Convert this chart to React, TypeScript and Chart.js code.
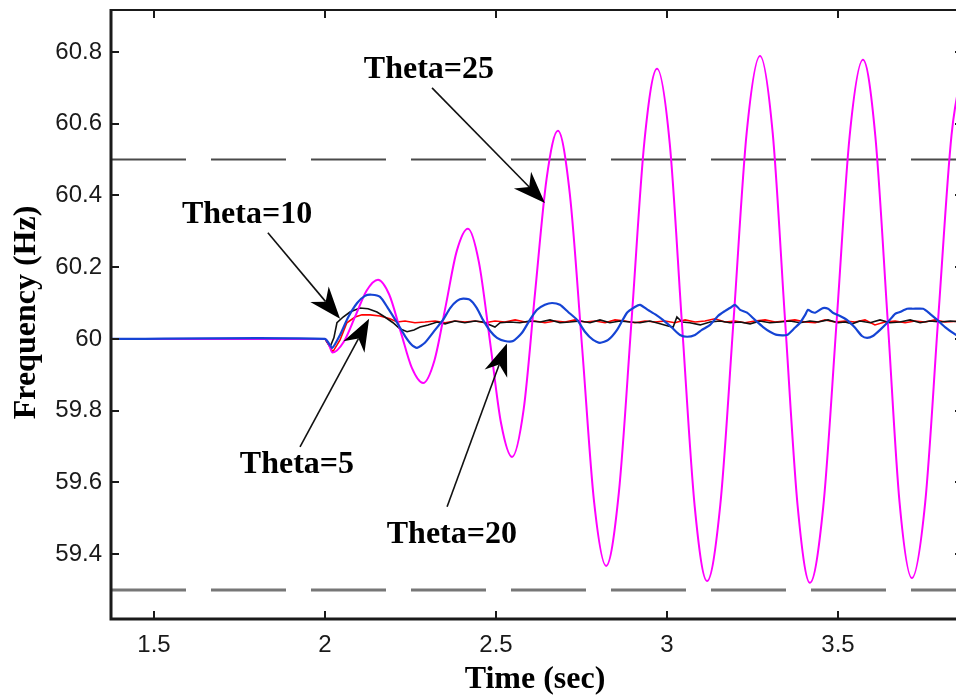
import React, { useEffect, useRef } from "react";
import { Chart, registerables } from "chart.js";

Chart.register(...registerables);

type Pt = [number, number];

// axis ranges / ticks
const X_MIN = 1.3743;
const X_MAX = 3.8655;
const Y_MIN = 59.219;
const Y_MAX = 60.917;
const X_STEP = 0.5;
const Y_STEP = 0.2;

// limit lines (Hz)
const UPPER_LIMIT = 60.5;
const LOWER_LIMIT = 59.3;

// Theta = 25 (magenta)
const theta25: Pt[] = [
  [1.374, 60.0], [2.0, 60.0], [2.011, 59.985], [2.022, 59.962], [2.055, 59.992], [2.089, 60.064],
  [2.122, 60.135], [2.155, 60.165], [2.188, 60.123], [2.221, 60.021], [2.254, 59.919], [2.287, 59.877],
  [2.32, 59.94], [2.353, 60.092], [2.385, 60.244], [2.418, 60.307], [2.45, 60.214], [2.483, 59.989],
  [2.515, 59.764], [2.547, 59.671], [2.581, 59.804], [2.614, 60.126], [2.648, 60.447], [2.681, 60.58],
  [2.716, 60.403], [2.752, 59.974], [2.787, 59.544], [2.822, 59.367], [2.859, 59.569], [2.897, 60.06],
  [2.934, 60.551], [2.971, 60.753], [3.008, 60.545], [3.044, 60.039], [3.081, 59.533], [3.117, 59.325],
  [3.156, 59.539], [3.195, 60.057], [3.233, 60.575], [3.272, 60.789], [3.309, 60.575], [3.345, 60.055],
  [3.382, 59.534], [3.418, 59.32], [3.457, 59.533], [3.496, 60.049], [3.534, 60.565], [3.573, 60.778],
  [3.609, 60.567], [3.645, 60.056], [3.68, 59.544], [3.716, 59.333], [3.755, 59.544], [3.793, 60.057],
  [3.832, 60.569], [3.87, 60.78],
];

// Theta = 20 (blue)
const theta20: Pt[] = [
  [1.374, 60.0], [2.0, 60.0], [2.021, 59.975], [2.044, 60.011], [2.067, 60.059], [2.094, 60.1],
  [2.117, 60.12], [2.137, 60.123], [2.161, 60.117], [2.184, 60.086], [2.211, 60.045], [2.234, 60.008],
  [2.254, 59.983], [2.269, 59.975], [2.292, 59.989], [2.322, 60.025], [2.345, 60.053], [2.366, 60.086],
  [2.386, 60.106], [2.404, 60.112], [2.424, 60.109], [2.444, 60.086], [2.462, 60.053], [2.483, 60.022],
  [2.503, 60.003], [2.526, 59.994], [2.55, 59.994], [2.576, 60.017], [2.599, 60.053], [2.62, 60.081],
  [2.643, 60.095], [2.664, 60.1], [2.687, 60.095], [2.711, 60.075], [2.737, 60.053], [2.76, 60.02],
  [2.784, 59.997], [2.804, 59.989], [2.828, 59.997], [2.854, 60.025], [2.883, 60.073], [2.906, 60.089],
  [2.921, 60.095], [2.944, 60.081], [2.968, 60.067], [2.988, 60.053], [3.015, 60.031], [3.038, 60.011],
  [3.059, 60.006], [3.082, 60.011], [3.102, 60.025], [3.126, 60.039], [3.149, 60.064], [3.17, 60.078],
  [3.184, 60.086], [3.199, 60.095], [3.214, 60.081], [3.234, 60.073], [3.257, 60.053], [3.281, 60.033],
  [3.301, 60.02], [3.322, 60.011], [3.351, 60.011], [3.374, 60.031], [3.389, 60.045], [3.404, 60.067],
  [3.412, 60.081], [3.424, 60.075], [3.433, 60.073], [3.447, 60.081], [3.456, 60.086], [3.471, 60.084],
  [3.485, 60.073], [3.506, 60.064], [3.526, 60.053], [3.55, 60.031], [3.57, 60.008], [3.585, 60.003],
  [3.602, 60.008], [3.623, 60.025], [3.646, 60.047], [3.667, 60.07], [3.681, 60.075], [3.702, 60.084],
  [3.719, 60.084], [3.749, 60.084], [3.769, 60.07], [3.79, 60.053], [3.813, 60.033], [3.845, 60.011],
  [3.866, 60.0],
];

// Theta = 10 (black)
const theta10: Pt[] = [
  [1.374, 60.0], [2.0, 60.0], [2.015, 59.978], [2.026, 60.003], [2.035, 60.045], [2.053, 60.061],
  [2.073, 60.075], [2.102, 60.086], [2.126, 60.084], [2.152, 60.075], [2.175, 60.061], [2.199, 60.045],
  [2.219, 60.028], [2.24, 60.02], [2.26, 60.025], [2.278, 60.033], [2.301, 60.039], [2.328, 60.047],
  [2.351, 60.042], [2.38, 60.05], [2.409, 60.045], [2.439, 60.05], [2.462, 60.047], [2.483, 60.039],
  [2.497, 60.033], [2.512, 60.045], [2.541, 60.047], [2.57, 60.045], [2.599, 60.05], [2.629, 60.047],
  [2.658, 60.053], [2.687, 60.045], [2.716, 60.047], [2.746, 60.05], [2.775, 60.045], [2.804, 60.053],
  [2.833, 60.045], [2.863, 60.05], [2.892, 60.047], [2.921, 60.045], [2.95, 60.05], [2.98, 60.042],
  [3.003, 60.036], [3.018, 60.033], [3.029, 60.061], [3.044, 60.047], [3.067, 60.045], [3.097, 60.039],
  [3.126, 60.047], [3.155, 60.05], [3.184, 60.045], [3.214, 60.047], [3.243, 60.042], [3.272, 60.05],
  [3.301, 60.045], [3.33, 60.047], [3.36, 60.05], [3.389, 60.045], [3.418, 60.05], [3.442, 60.047],
  [3.471, 60.053], [3.5, 60.045], [3.521, 60.047], [3.541, 60.042], [3.564, 60.05], [3.594, 60.045],
  [3.623, 60.053], [3.652, 60.045], [3.681, 60.047], [3.711, 60.053], [3.74, 60.045], [3.769, 60.05],
  [3.798, 60.047], [3.828, 60.05], [3.866, 60.047],
];

// Theta = 5 (red)
const theta5: Pt[] = [
  [1.374, 60.0], [2.0, 60.0], [2.023, 59.964], [2.044, 59.997], [2.064, 60.045], [2.088, 60.061],
  [2.108, 60.067], [2.132, 60.067], [2.161, 60.064], [2.19, 60.056], [2.211, 60.047], [2.234, 60.05],
  [2.263, 60.045], [2.292, 60.047], [2.322, 60.05], [2.351, 60.045], [2.38, 60.05], [2.409, 60.047],
  [2.439, 60.05], [2.468, 60.045], [2.497, 60.05], [2.526, 60.047], [2.556, 60.053], [2.585, 60.047],
  [2.614, 60.05], [2.643, 60.045], [2.673, 60.05], [2.702, 60.047], [2.731, 60.053], [2.76, 60.047],
  [2.79, 60.05], [2.819, 60.045], [2.848, 60.053], [2.877, 60.05], [2.906, 60.045], [2.936, 60.05],
  [2.965, 60.047], [2.994, 60.05], [3.023, 60.045], [3.053, 60.053], [3.082, 60.047], [3.111, 60.05],
  [3.14, 60.056], [3.17, 60.047], [3.199, 60.05], [3.228, 60.045], [3.257, 60.05], [3.287, 60.053],
  [3.316, 60.047], [3.345, 60.05], [3.374, 60.053], [3.404, 60.047], [3.433, 60.045], [3.462, 60.053],
  [3.491, 60.047], [3.521, 60.05], [3.55, 60.047], [3.579, 60.053], [3.608, 60.039], [3.637, 60.047],
  [3.667, 60.05], [3.696, 60.045], [3.725, 60.05], [3.754, 60.047], [3.784, 60.053], [3.813, 60.047],
  [3.866, 60.05],
];

// annotation labels: text centre and arrow (tail -> tip) in data units
const annotations: { label: string; text: Pt; from: Pt; to: Pt }[] = [
  { label: "Theta=25", text: [2.304, 60.75], from: [2.313, 60.7], to: [2.643, 60.379] },
  { label: "Theta=10", text: [1.772, 60.345], from: [1.833, 60.296], to: [2.044, 60.056] },
  { label: "Theta=5", text: [1.918, 59.648], from: [1.927, 59.699], to: [2.129, 60.056] },
  { label: "Theta=20", text: [2.371, 59.455], from: [2.357, 59.532], to: [2.532, 59.987] },
];

const X_TITLE = "Time (sec)";
const Y_TITLE = "Frequency (Hz)";

const toXY = (pts: Pt[]) => pts.map(([x, y]) => ({ x, y }));
const fmt = (v: number) => String(Math.round(v * 10) / 10);

const framePlugin = {
  id: "framePlugin",
  afterDraw(chart: any) {
    const { ctx, chartArea } = chart;
    const { left, right, top, bottom } = chartArea;
    const xs = chart.scales.x;
    const ys = chart.scales.y;
    ctx.save();
    // frame
    ctx.strokeStyle = "#1a1a1a";
    ctx.lineWidth = 2;
    ctx.beginPath();
    ctx.moveTo(left, top);
    ctx.lineTo(right, top);
    ctx.lineTo(right, bottom);
    ctx.stroke();
    ctx.lineWidth = 3;
    ctx.beginPath();
    ctx.moveTo(left, top - 1);
    ctx.lineTo(left, bottom);
    ctx.lineTo(right, bottom);
    ctx.stroke();
    // inward ticks
    ctx.lineWidth = 2;
    const tl = 8;
    ctx.beginPath();
    xs.ticks.forEach((t: any) => {
      const px = Math.round(xs.getPixelForValue(t.value));
      ctx.moveTo(px, bottom);
      ctx.lineTo(px, bottom - tl);
      ctx.moveTo(px, top);
      ctx.lineTo(px, top + tl);
    });
    ys.ticks.forEach((t: any) => {
      const py = Math.round(ys.getPixelForValue(t.value));
      ctx.moveTo(left, py);
      ctx.lineTo(left + tl, py);
      ctx.moveTo(right, py);
      ctx.lineTo(right - tl, py);
    });
    ctx.stroke();

    // annotations
    ctx.fillStyle = "#000";
    ctx.strokeStyle = "#111";
    ctx.font = "bold 32px 'Liberation Serif', 'Times New Roman', serif";
    ctx.textAlign = "center";
    ctx.textBaseline = "middle";
    annotations.forEach((a) => {
      const tx = xs.getPixelForValue(a.text[0]);
      const ty = ys.getPixelForValue(a.text[1]);
      ctx.fillText(a.label, tx, ty);
      const x0 = xs.getPixelForValue(a.from[0]);
      const y0 = ys.getPixelForValue(a.from[1]);
      const x1 = xs.getPixelForValue(a.to[0]);
      const y1 = ys.getPixelForValue(a.to[1]);
      const ang = Math.atan2(y1 - y0, x1 - x0);
      const L = 32;
      const W = 12;
      const ca = Math.cos(ang);
      const sa = Math.sin(ang);
      const bx = x1 - L * ca;
      const by = y1 - L * sa;
      const nx = x1 - 0.7 * L * ca;
      const ny = y1 - 0.7 * L * sa;
      ctx.lineWidth = 1.6;
      ctx.beginPath();
      ctx.moveTo(x0, y0);
      ctx.lineTo(nx, ny);
      ctx.stroke();
      ctx.beginPath();
      ctx.moveTo(x1, y1);
      ctx.lineTo(bx - W * sa, by + W * ca);
      ctx.lineTo(nx, ny);
      ctx.lineTo(bx + W * sa, by - W * ca);
      ctx.closePath();
      ctx.fill();
    });

    // axis titles
    ctx.font = "bold 32px 'Liberation Serif', 'Times New Roman', serif";
    ctx.fillStyle = "#000";
    ctx.fillText(X_TITLE, (left + right) / 2 - 2, bottom + 61);
    ctx.save();
    ctx.translate(27, (top + bottom) / 2 - 2);
    ctx.rotate(-Math.PI / 2);
    ctx.fillText(Y_TITLE, 0, 0);
    ctx.restore();
    ctx.restore();
  },
};

export default function App() {
  const ref = useRef<HTMLCanvasElement | null>(null);
  useEffect(() => {
    if (!ref.current) return;
    const limitStyle = (color: string, w: number) => ({
      borderColor: color,
      borderWidth: w,
      borderDash: [75, 25],
      pointRadius: 0,
      tension: 0,
    });
    const chart = new Chart(ref.current, {
      type: "line",
      data: {
        datasets: [
          {
            label: "Theta=20",
            data: toXY(theta20),
            borderColor: "#1544d4",
            borderWidth: 2.2,
            pointRadius: 0,
            tension: 0.2,
          },
          {
            label: "Theta=25",
            data: toXY(theta25),
            borderColor: "#ff00ff",
            borderWidth: 2,
            pointRadius: 0,
            cubicInterpolationMode: "monotone",
          },
          {
            label: "Theta=10",
            data: toXY(theta10),
            borderColor: "#111111",
            borderWidth: 1.6,
            pointRadius: 0,
            tension: 0,
          },
          {
            label: "Theta=5",
            data: toXY(theta5),
            borderColor: "#ff0000",
            borderWidth: 1.6,
            pointRadius: 0,
            tension: 0,
          },
          {
            label: "upper",
            data: toXY([[X_MIN, UPPER_LIMIT], [X_MAX, UPPER_LIMIT]]),
            ...limitStyle("#4a4a4a", 2),
          },
          {
            label: "lower",
            data: toXY([[X_MIN, LOWER_LIMIT], [X_MAX, LOWER_LIMIT]]),
            ...limitStyle("#777777", 3),
          },
        ] as any,
      },
      options: {
        animation: false,
        responsive: false,
        maintainAspectRatio: false,
        devicePixelRatio: 1,
        layout: { padding: { left: 0, top: 10, right: 1, bottom: 0 } },
        plugins: {
          legend: { display: false },
          tooltip: { enabled: false },
        },
        scales: {
          x: {
            type: "linear",
            min: X_MIN,
            max: X_MAX,
            grid: { display: false, drawTicks: false },
            border: { display: false },
            ticks: {
              stepSize: X_STEP,
              includeBounds: false,
              autoSkip: false,
              maxRotation: 0,
              padding: 12,
              color: "#1a1a1a",
              font: { family: "'Liberation Sans', Arial, sans-serif", size: 24 },
              callback: (v: any) => fmt(Number(v)),
            },
            afterFit: (s: any) => {
              s.height = 76;
              s.paddingLeft = 0;
              s.paddingRight = 0;
            },
          },
          y: {
            type: "linear",
            min: Y_MIN,
            max: Y_MAX,
            grid: { display: false, drawTicks: false },
            border: { display: false },
            ticks: {
              stepSize: Y_STEP,
              includeBounds: false,
              autoSkip: false,
              padding: 9,
              color: "#1a1a1a",
              font: { family: "'Liberation Sans', Arial, sans-serif", size: 24 },
              callback: (v: any) => fmt(Number(v)),
            },
            afterFit: (s: any) => {
              s.width = 111;
              s.paddingTop = 0;
              s.paddingBottom = 0;
            },
          },
        },
      } as any,
      plugins: [framePlugin],
    });
    return () => chart.destroy();
  }, []);

  return (
    <div
      style={{
        position: "fixed",
        left: 0,
        top: 0,
        width: 956,
        height: 695,
        overflow: "hidden",
        background: "#fff",
      }}
    >
      <canvas ref={ref} width={964} height={695} style={{ width: 964, height: 695, display: "block" }} />
    </div>
  );
}
